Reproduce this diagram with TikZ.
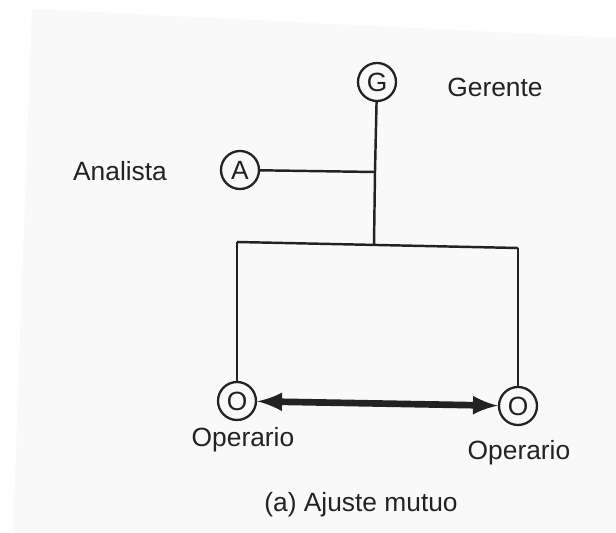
\documentclass[tikz,border=0pt]{standalone}
\usepackage{fontspec}
\setmainfont{Liberation Sans}
\usetikzlibrary{arrows}

\definecolor{ink}{HTML}{222222}
\definecolor{paper}{HTML}{F9F9F9}

\tikzset{
	role/.style={draw=ink, circle, line width=1.3pt, minimum size=0.76cm, inner sep=0pt, text=ink},
	lbl/.style={text=ink},
	wire/.style={draw=ink, line width=1.4pt}
}

\begin{document}
\begin{tikzpicture}[x=0.02cm, y=-0.02cm, font=\fontsize{15}{18}\selectfont]
		% page of the scan
		\fill[white] (0,0) rectangle (616,533);
		\fill[paper] (32,9) -- (616,38) -- (616,533) -- (13,533) -- cycle;
		\useasboundingbox (0,0) rectangle (616,533);
		
		% people
		\node[role] (g) at (377,82) {G};
		\node[role] (a) at (240,170) {A};
		\node[role] (o1) at (237,401) {O};
		\node[role] (o2) at (518,406) {O};
		
		\node[lbl] (gname) at (495,87) {Gerente};
		\node[lbl] (aname) at (120,171) {Analista};
		\node[lbl] (o1name) at (243,440) {Operario};
		\node[lbl] (o2name) at (519,453) {Operario};
		\node[lbl] (caption) at (361,505) {(a) Ajuste mutuo};
		
		% junctions of the tree
		\coordinate (ja) at (375,172);
		\coordinate (jm) at (374,245);
		\coordinate (jl) at (237,242);
		\coordinate (jr) at (518,248);
		
		\draw[wire] (g) -- (ja) -- (jm);
		\draw[wire] (a) -- (ja);
		\draw[wire] (jl) -- (jr);
		\foreach \j/\o in {jl/o1, jr/o2}
		{
			\draw[wire] (\j) -- (\o);
		}
		
		% mutual adjustment
		\draw[<->, >=latex, draw=ink, line width=3.8pt] (o1) -- (o2);
\end{tikzpicture}
\end{document}
